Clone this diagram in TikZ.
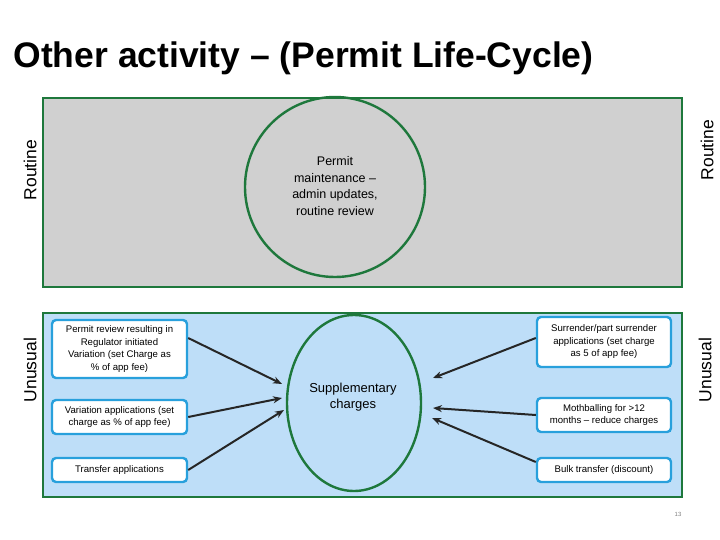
\documentclass[tikz,border=0pt]{standalone}
\usepackage{fontspec}
\setmainfont{Liberation Sans}
\usetikzlibrary{calc, arrows.meta}
\definecolor{panelgreen}{RGB}{30,120,60}
\definecolor{boxblue}{RGB}{40,160,220}
\definecolor{lightblue}{RGB}{190,222,248}
\definecolor{panelgray}{RGB}{208,208,208}
\begin{document}
\begin{tikzpicture}[x=1pt, y=-1pt,
        panel/.style={draw=panelgreen, line width=2.6pt},
        item/.style={draw=boxblue, fill=white, line width=2.4pt, rounded corners=4pt, align=center, font=\fontsize{9.6}{12.5}\selectfont, inner sep=2pt},
        side/.style={rotate=90, font=\fontsize{17.5}{20}\selectfont},
        feed/.style={line width=2pt, -{Stealth[length=9pt, width=7pt]}, black!85},
        ]
    \useasboundingbox (0,0) rectangle (720,540);

    \node (title) at (10,58) [anchor=west, font=\bfseries\fontsize{35.5}{40}\selectfont] {Other activity – (Permit Life-Cycle)};

    \draw [panel, fill=panelgray] (43,98) rectangle (682,287);
    \draw [panel, fill=lightblue] (43,313) rectangle (682,497);

    \node (R1) at (30,170) [side] {Routine};
    \node (R2) at (707,150) [side] {Routine};
    \node (U1) at (30,370) [side] {Unusual};
    \node (U2) at (705,370) [side] {Unusual};

    \draw [panelgreen, line width=2.4pt] (335,187) circle (90);
    \node (maint) at (335,186) [align=center, font=\fontsize{12.5}{16.5}\selectfont] {Permit\\maintenance –\\admin updates,\\routine review};

    \draw [panelgreen, line width=2.4pt] (354,403) ellipse (67 and 88);
    \node (supp) at (353,397) [align=center, font=\fontsize{13}{16}\selectfont] {Supplementary\\charges};
    \coordinate (S1) at (282,384);
    \coordinate (S2) at (282,398);
    \coordinate (S3) at (284,410);
    \coordinate (S4) at (433,378);
    \coordinate (S5) at (433,408);
    \coordinate (S6) at (432,418);

    \node (L1) at (119.5,349) [item, minimum width=135, minimum height=58] {Permit review resulting in\\Regulator initiated\\Variation (set Charge as\\\% of app fee)};
    \node (L2) at (119.5,417) [item, minimum width=135, minimum height=34] {Variation applications (set\\charge as \% of app fee)};
    \node (L3) at (119.5,470) [item, minimum width=135, minimum height=24] {Transfer applications};
    \node (Q1) at (604,342) [item, minimum width=134, minimum height=50] {Surrender/part surrender\\applications (set charge\\as 5 of app fee)};
    \node (Q2) at (604,415) [item, minimum width=134, minimum height=34] {Mothballing for >12\\months – reduce charges};
    \node (Q3) at (604,470) [item, minimum width=134, minimum height=24] {Bulk transfer (discount)};

    \draw [feed] (L1.east |- 0,338) -- (S1);
    \draw [feed] (L2.east) -- (S2);
    \draw [feed] (L3.east) -- (S3);
    \draw [feed] (Q1.west |- 0,338) -- (S4);
    \draw [feed] (Q2.west) -- (S5);
    \draw [feed] (Q3.west |- 0,462) -- (S6);

    \node (page) at (678,514) [font=\fontsize{6}{7}\selectfont, gray] {13};
\end{tikzpicture}
\end{document}
